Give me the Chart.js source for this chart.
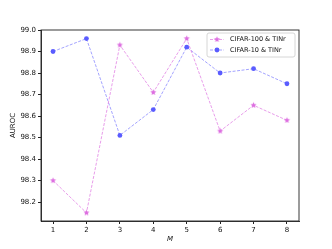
<!DOCTYPE html>
<html>
<head>
<meta charset="utf-8">
<script src="https://cdn.jsdelivr.net/npm/chart.js@4"></script>
<style>
  html, body { margin: 0; padding: 0; background: #fff; }
  #wrap { width: 332px; height: 249px; }
</style>
</head>
<body>
<div id="wrap"><canvas id="chart" width="332" height="249"></canvas></div>
<script>
const mValues = [1, 2, 3, 4, 5, 6, 7, 8];
const cifar100 = [98.30, 98.15, 98.93, 98.71, 98.96, 98.53, 98.65, 98.58];
const cifar10 = [98.90, 98.96, 98.51, 98.63, 98.92, 98.80, 98.82, 98.75];
const yTicks = [98.2, 98.3, 98.4, 98.5, 98.6, 98.7, 98.8, 98.9, 99.0];
const seriesNames = ['CIFAR-100 & TINr', 'CIFAR-10 & TINr'];

const pink = '#dd6ee0';
const pinkLine = 'rgba(221,110,224,0.85)';
const blue = '#5a5cff';
const blueLine = 'rgba(100,100,255,0.75)';
const font = 'DejaVu Sans';

const toPoints = (arr) => arr.map((v, i) => ({ x: mValues[i], y: v }));

// filled 5-point star like matplotlib's '*' marker
function makeStar(color, r) {
  const c = document.createElement('canvas');
  const size = Math.ceil(r * 2 + 2);
  c.width = size; c.height = size;
  const g = c.getContext('2d');
  g.fillStyle = color;
  g.beginPath();
  for (let i = 0; i < 10; i++) {
    const rad = i % 2 === 0 ? r : r * 0.45;
    const ang = -Math.PI / 2 + i * Math.PI / 5;
    const px = size / 2 + rad * Math.cos(ang);
    const py = size / 2 + rad * Math.sin(ang);
    i === 0 ? g.moveTo(px, py) : g.lineTo(px, py);
  }
  g.closePath();
  g.fill();
  return c;
}
const starImg = makeStar(pink, 3.2);

const extras = {
  id: 'extras',
  afterDraw(chart) {
    const { ctx, chartArea: a } = chart;
    ctx.save();
    ctx.strokeStyle = '#222';
    ctx.lineWidth = 0.9;
    ctx.strokeRect(a.left, a.top, a.right - a.left, a.bottom - a.top);

    ctx.fillStyle = '#111';
    ctx.font = `italic 7px "${font}"`;
    ctx.textAlign = 'center';
    ctx.textBaseline = 'middle';
    ctx.fillText('M', (a.left + a.right) / 2, 239);

    ctx.save();
    ctx.translate(13, (a.top + a.bottom) / 2);
    ctx.rotate(-Math.PI / 2);
    ctx.font = `7px "${font}"`;
    ctx.fillText('AUROC', 0, 0);
    ctx.restore();

    // legend
    const bx = 207, by = 33, bw = 88, bh = 24;
    ctx.fillStyle = 'rgba(255,255,255,0.85)';
    ctx.strokeStyle = '#ccc';
    ctx.lineWidth = 0.8;
    ctx.beginPath();
    ctx.roundRect(bx, by, bw, bh, 2);
    ctx.fill();
    ctx.stroke();
    const rows = [
      { y: 39.5, color: pinkLine, mark: pink, style: 'star' },
      { y: 50, color: blueLine, mark: blue, style: 'circle' }
    ];
    rows.forEach((r, i) => {
      ctx.strokeStyle = r.color;
      ctx.lineWidth = 0.8;
      ctx.setLineDash([3, 1.5]);
      ctx.beginPath();
      ctx.moveTo(210, r.y);
      ctx.lineTo(224, r.y);
      ctx.stroke();
      ctx.setLineDash([]);
      ctx.fillStyle = r.mark;
      if (r.style === 'circle') {
        ctx.beginPath();
        ctx.arc(217, r.y, 2.4, 0, Math.PI * 2);
        ctx.fill();
      } else {
        ctx.drawImage(starImg, 217 - starImg.width / 2, r.y - starImg.height / 2);
      }
      ctx.fillStyle = '#111';
      ctx.font = `6.5px "${font}"`;
      ctx.textAlign = 'left';
      ctx.textBaseline = 'middle';
      ctx.fillText(seriesNames[i], 230, r.y);
    });
    ctx.restore();
  }
};

new Chart(document.getElementById('chart'), {
  type: 'line',
  data: {
    datasets: [
      {
        label: seriesNames[0],
        data: toPoints(cifar100),
        borderColor: pinkLine,
        borderWidth: 0.8,
        borderDash: [3, 1.5],
        pointStyle: starImg,
        tension: 0
      },
      {
        label: seriesNames[1],
        data: toPoints(cifar10),
        borderColor: blueLine,
        borderWidth: 0.8,
        borderDash: [3, 1.5],
        pointStyle: 'circle',
        pointRadius: 2.4,
        pointBorderWidth: 0,
        pointBackgroundColor: blue,
        tension: 0
      }
    ]
  },
  options: {
    responsive: false,
    animation: false,
    devicePixelRatio: 1,
    layout: { padding: { left: 0, top: 30, right: 33, bottom: 0 } },
    plugins: { legend: { display: false }, tooltip: { enabled: false } },
    scales: {
      x: {
        type: 'linear',
        min: 0.64,
        max: 8.36,
        afterBuildTicks: (s) => { s.ticks = mValues.map((v) => ({ value: v })); },
        afterFit: (s) => { s.height = 28; },
        grid: { drawOnChartArea: false, drawTicks: true, tickLength: 3, color: '#222' },
        border: { display: true, color: '#222', width: 0.9 },
        ticks: { color: '#111', font: { family: font, size: 7 }, padding: 2, maxRotation: 0,
                 callback: (v) => String(v) }
      },
      y: {
        min: 98.112,
        max: 99.0,
        afterBuildTicks: (s) => { s.ticks = yTicks.map((v) => ({ value: v })); },
        afterFit: (s) => { s.width = 41; },
        grid: { drawOnChartArea: false, drawTicks: true, tickLength: 3, color: '#222' },
        border: { display: true, color: '#222', width: 0.9 },
        ticks: { color: '#111', font: { family: font, size: 7 }, padding: 2,
                 callback: (v) => Number(v).toFixed(1) }
      }
    }
  },
  plugins: [extras]
});
</script>
</body>
</html>
